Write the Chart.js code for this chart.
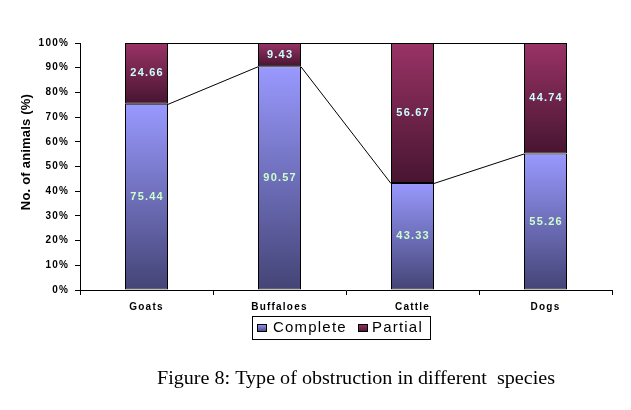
<!DOCTYPE html>
<html><head><meta charset="utf-8">
<script src="https://cdn.jsdelivr.net/npm/chart.js@4.4.0/dist/chart.umd.min.js"></script>
<style>html,body{margin:0;padding:0;background:#fff;}#wrap{width:631px;height:410px;position:relative;}</style>
</head><body><div id="wrap"><canvas id="c" width="631" height="410" style="width:631px;height:410px"></canvas></div>
<script>
const categories = ['Goats', 'Buffaloes', 'Cattle', 'Dogs'];
const completeValues = [75.44, 90.57, 43.33, 55.26];
const partialValues = [24.66, 9.43, 56.67, 44.74];
const seriesNames = ['Complete', 'Partial'];
const yTickStep = 10;
const yAxisTitle = 'No. of animals (%)';
const captionText = 'Figure 8: Type of obstruction in different  species';

// 100% stacked shares
const completePct = completeValues.map((v, i) => v / (v + partialValues[i]) * 100);
const partialPct = partialValues.map((v, i) => v / (completeValues[i] + v) * 100);

const styles = [
  {light: '#9999ff', dark: '#444476', label: '#ccffcc'},
  {light: '#993366', dark: '#471530', label: '#ccffff'}
];
const SANS = '"Liberation Sans", Arial, sans-serif';

function segGradient(c) {
  const chart = c.chart;
  const ds = c.datasetIndex, st = styles[ds];
  const y = chart.scales && chart.scales.y;
  if (c.type !== 'data' || !y) return st.light;
  const i = c.dataIndex;
  const lo = ds === 0 ? 0 : completePct[i];
  const hi = ds === 0 ? completePct[i] : 100;
  const top = y.getPixelForValue(hi), bot = y.getPixelForValue(lo);
  if (!isFinite(top) || !isFinite(bot) || top === bot) return st.light;
  const g = chart.ctx.createLinearGradient(0, top, 0, bot);
  g.addColorStop(0, st.light);
  g.addColorStop(1, st.dark);
  return g;
}

const extras = {
  id: 'extras',
  beforeDraw(chart) { chart.ctx.letterSpacing = '1.2px'; },
  afterDatasetsDraw(chart) {
    const ctx = chart.ctx;
    ctx.save();
    // series lines
    ctx.strokeStyle = '#000'; ctx.lineWidth = 1;
    [0, 1].forEach(d => {
      const bars = chart.getDatasetMeta(d).data;
      ctx.beginPath();
      for (let i = 0; i < bars.length - 1; i++) {
        const a = bars[i], b = bars[i + 1];
        ctx.moveTo(a.x + a.width / 2, a.y + 0.5);
        ctx.lineTo(b.x - b.width / 2, b.y + 0.5);
      }
      ctx.stroke();
    });
    // data labels
    ctx.font = 'bold 11px ' + SANS;
    ctx.textAlign = 'center'; ctx.textBaseline = 'middle';
    ctx.letterSpacing = '1.2px';
    [completeValues, partialValues].forEach((vals, d) => {
      ctx.fillStyle = styles[d].label;
      chart.getDatasetMeta(d).data.forEach((bar, i) => {
        ctx.fillText(vals[i].toFixed(2), bar.x + 0.6, (bar.y + bar.base) / 2);
      });
    });
    ctx.restore();
  },
  afterDraw(chart) {
    const ctx = chart.ctx;
    ctx.save();
    // y axis title
    ctx.translate(26, 152);
    ctx.rotate(-Math.PI / 2);
    ctx.font = 'bold 13px ' + SANS;
    ctx.letterSpacing = '0.2px';
    ctx.fillStyle = '#000';
    ctx.textAlign = 'center'; ctx.textBaseline = 'middle';
    ctx.fillText(yAxisTitle, 0, 0);
    ctx.restore();

    // legend
    ctx.save();
    ctx.strokeStyle = '#000'; ctx.lineWidth = 1;
    ctx.fillStyle = '#fff';
    ctx.fillRect(252.5, 316.5, 178, 23);
    ctx.strokeRect(252.5, 316.5, 178, 23);
    ctx.font = '15px ' + SANS;
    ctx.letterSpacing = '1.2px';
    ctx.textBaseline = 'alphabetic'; ctx.textAlign = 'left';
    const sw = [257, 358], tx = [273, 372];
    seriesNames.forEach((n, d) => {
      const g = ctx.createLinearGradient(0, 324, 0, 332);
      g.addColorStop(0, styles[d].light); g.addColorStop(1, styles[d].dark);
      ctx.fillStyle = g;
      ctx.fillRect(sw[d] + 0.5, 324.5, 9, 7);
      ctx.strokeStyle = '#000';
      ctx.strokeRect(sw[d] + 0.5, 324.5, 9, 7);
      ctx.fillStyle = '#000';
      ctx.fillText(n, tx[d], 332);
    });
    ctx.restore();

    // caption
    ctx.save();
    ctx.letterSpacing = '0px';
    ctx.font = '19.5px "Liberation Serif", "DejaVu Serif", serif';
    ctx.fillStyle = '#000';
    ctx.textAlign = 'left'; ctx.textBaseline = 'alphabetic';
    const w = ctx.measureText(captionText).width;
    const target = 398;
    ctx.translate(157, 384);
    ctx.scale(target / w, 1);
    ctx.fillText(captionText, 0, 0);
    ctx.restore();
  }
};

new Chart(document.getElementById('c'), {
  type: 'bar',
  data: {
    labels: categories,
    datasets: [
      {label: seriesNames[0], data: completePct, backgroundColor: segGradient, borderColor: '#000', borderWidth: 1, borderSkipped: false, inflateAmount: 0, barThickness: 43},
      {label: seriesNames[1], data: partialPct, backgroundColor: segGradient, borderColor: '#000', borderWidth: 1, borderSkipped: false, inflateAmount: 0, barThickness: 43}
    ]
  },
  options: {
    responsive: false,
    maintainAspectRatio: false,
    animation: false,
    devicePixelRatio: 1,
    layout: {padding: {top: 43, right: 19, left: 0, bottom: 0}},
    plugins: {legend: {display: false}, tooltip: {enabled: false}, title: {display: false}},
    scales: {
      x: {
        stacked: true,
        afterFit(s) { s.height = 120; },
        grid: {display: true, drawOnChartArea: false, drawTicks: true, tickLength: 5, color: '#000', offset: true},
        border: {display: true, color: '#000', width: 1},
        ticks: {color: '#000', font: {family: SANS, size: 10, weight: 'bold'}, padding: 6, maxRotation: 0}
      },
      y: {
        stacked: true,
        min: 0, max: 100,
        afterFit(s) { s.width = 80; },
        grid: {display: true, drawOnChartArea: false, drawTicks: true, tickLength: 5, color: '#000'},
        border: {display: true, color: '#000', width: 1},
        ticks: {stepSize: yTickStep, color: '#000', font: {family: SANS, size: 10, weight: 'bold'}, padding: 6, callback: v => v + '%'}
      }
    }
  },
  plugins: [extras]
});
</script></body></html>
